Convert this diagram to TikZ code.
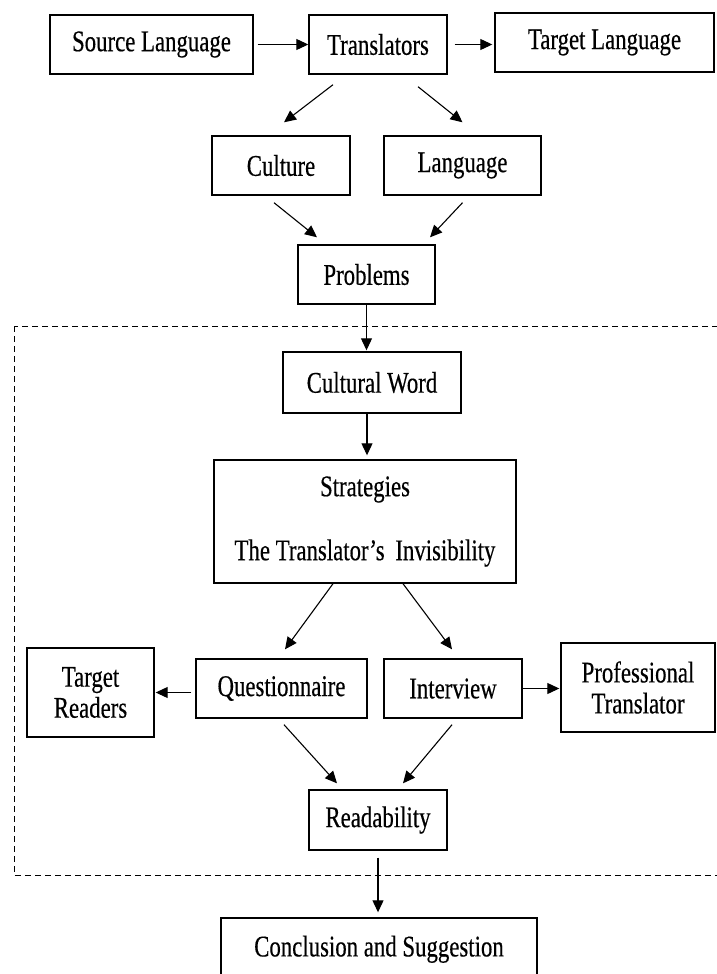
\documentclass[tikz,border=0pt]{standalone}
\usepackage{fontspec}
\setmainfont{Liberation Serif}[FakeStretch=0.76, FakeBold=0.4]
\usepackage{tikz}
\usetikzlibrary{arrows.meta}
\usetikzlibrary{positioning}
\tikzset{box/.style={draw, line width=1.4pt, inner sep=0pt, align=center,
    minimum height=59pt, font=\fontsize{30}{31}\selectfont}}
\tikzset{frame/.style={line width=1pt, dash pattern=on 6pt off 4pt}}

\begin{document}
\begin{tikzpicture}[x=1pt, y=-1pt,
      >={Triangle[length=12pt,width=11pt]},
      line width=1.1pt,
      on grid]

    \path[fill=white, use as bounding box] (0,0) rectangle (717,974);

    \node[box, minimum width=203pt]
      (Source) at (151.5,44.5) {Source Language};
    \node[box, minimum width=138pt]
      (Translators) [right=226.5pt of Source] {Translators};
    \node[box, minimum width=219pt]
      (TargetLang) [above right=2pt and 226.5pt of Translators] {Target Language};
    \node[box, minimum width=138pt]
      (Culture) [below left=121pt and 97pt of Translators] {Culture};
    \node[box, minimum width=157pt]
      (Language) [right=181.5pt of Culture] {Language};
    \node[box, minimum width=137pt]
      (Problems) [below right=109pt and 85.5pt of Culture] {Problems};
    \node[box, minimum width=178pt, minimum height=61pt]
      (CulturalWord) [below right=108pt and 5.5pt of Problems] {Cultural Word};
    \node[box, minimum width=302pt, minimum height=123pt]
      (Strategies) [below left=139pt and 7pt of CulturalWord]
      {\raisebox{7pt}{Strategies}\\[26pt]The Translator’s\, Invisibility};
    \node[box, minimum width=171pt]
      (Questionnaire) [below left=167pt and 83.5pt of Strategies] {Questionnaire};
    \node[box, minimum width=138pt]
      (Interview) [right=171.5pt of Questionnaire] {Interview};
    \node[box, minimum width=127pt, minimum height=89pt]
      (TargetReaders) [below left=4pt and 191pt of Questionnaire] {Target\\Readers};
    \node[box, minimum width=154pt, minimum height=89pt]
      (Professional) [above right=1pt and 185pt of Interview] {Professional\\Translator};
    \node[box, minimum width=138pt, minimum height=60pt]
      (Readability) [below right=131.5pt and 96.5pt of Questionnaire] {Readability};
    \node[box, minimum width=316pt, minimum height=64pt]
      (Conclusion) [below right=130pt and 1pt of Readability]
      {\raisebox{8pt}{Conclusion and Suggestion}};

    % dashed frame round the research part
    \draw[frame] (14,326) rectangle (722,875);

    \path[->]
      (Source) edge [shorten <=4pt] (Translators)
      (Translators.east) edge [shorten <=7pt, shorten >=2pt] (Translators.east -| TargetLang.west)
      ([xshift=-45pt,yshift=-10pt]Translators.south) edge ([xshift=3pt,yshift=13pt]Culture.north)
      ([xshift=40pt,yshift=-12pt]Translators.south) edge ([yshift=13pt]Language.north)
      ([xshift=-7pt,yshift=-7pt]Culture.south) edge ([xshift=-49.5pt,yshift=7pt]Problems.north)
      ([yshift=-7pt]Language.south) edge ([xshift=63.5pt,yshift=7pt]Problems.north)
      (Problems.south) edge [shorten >=1pt] (Problems.south |- CulturalWord.north)
      ([xshift=-5pt]CulturalWord.south) edge [shorten >=4pt] ([xshift=-5pt]CulturalWord.south |- Strategies.north)
      ([xshift=-32pt]Strategies.south) edge ([xshift=3.5pt,yshift=9pt]Questionnaire.north)
      ([xshift=38pt]Strategies.south) edge ([xshift=-1pt,yshift=9pt]Interview.north)
      (Questionnaire.west |- TargetReaders) edge [shorten <=4pt, shorten >=1pt] (TargetReaders.east)
      (Interview.east) edge [shorten >=1pt] (Interview.east -| Professional.west)
      ([xshift=2.5pt,yshift=-6pt]Questionnaire.south) edge ([xshift=-41pt,yshift=6pt]Readability.north)
      ([xshift=-1pt,yshift=-6pt]Interview.south) edge ([xshift=25pt,yshift=6pt]Readability.north)
      (Readability.south) edge [shorten <=7pt, shorten >=5pt] (Readability.south |- Conclusion.north);

  \end{tikzpicture}
\end{document}
